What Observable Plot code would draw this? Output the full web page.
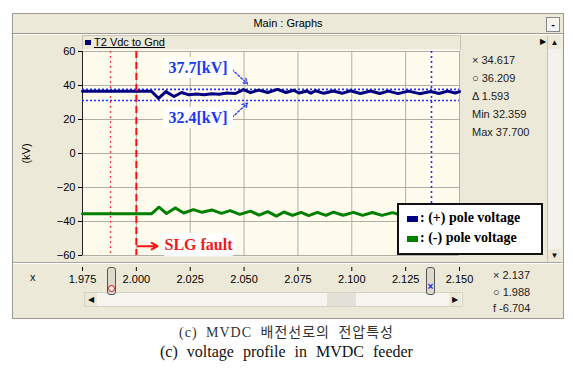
<!DOCTYPE html>
<html>
<head>
<meta charset="utf-8">
<script src="https://cdn.jsdelivr.net/npm/d3@7"></script>
<script src="https://cdn.jsdelivr.net/npm/@observablehq/plot@0.6"></script>
<style>
  body { margin: 0; background: #fff; }
  #wrap { position: relative; width: 573px; height: 369px; overflow: hidden; background: #fff; font-family: "Liberation Sans", Arial, sans-serif; font-size: 11px; color: #111; }
  .abs { position: absolute; }
  .ro { position: absolute; line-height: 13px; font-size: 11px; color: #222; white-space: nowrap; }
  .note { position: absolute; background: #fff; border-radius: 4px; font-family: "Liberation Serif", serif; font-weight: bold; font-size: 16px; text-align: center; white-space: nowrap; }
  .leg { position: absolute; font-family: "Liberation Serif", serif; font-weight: bold; font-size: 14px; color: #000; white-space: nowrap; }
</style>
</head>
<body>
<div id="wrap">
  <!-- window chrome -->
  <div class="abs" style="left:12px;top:13px;width:550px;height:304px;background:#ece9d8;border:1px solid #9c9a90;"></div>
  <div class="abs" style="left:13px;top:14px;width:550px;height:19px;border-bottom:1px solid #9c9a90;box-shadow:0 1px 0 #fff;"></div>
  <div class="abs" style="left:13px;top:17px;width:550px;text-align:center;font-size:11px;color:#000;">Main : Graphs</div>
  <div class="abs" style="left:546px;top:17px;width:12px;height:13px;border:1px solid #888;background:#f4f3ee;text-align:center;line-height:12px;font-weight:bold;">-</div>
  <!-- series label bar -->
  <div class="abs" style="left:82px;top:35px;width:377px;height:14px;background:#ece9d8;border:1px solid #c8c5b8;border-bottom:none;"></div>
  <div class="abs" style="left:85px;top:40px;width:6px;height:5px;background:#000080;"></div>
  <div class="abs" style="left:94px;top:36px;font-size:11px;text-decoration:underline;color:#000;">T2 Vdc to Gnd</div>
  <div class="abs" style="left:540px;top:37px;font-size:8px;color:#000;">&#9654;</div>
  <!-- right scrollbar -->
  <div class="abs" style="left:547px;top:36px;width:14px;height:226px;background:#f3f2ec;border-left:1px solid #c8c5b8;"></div>
  <div class="abs" style="left:548px;top:36px;width:13px;height:13px;background:#ece9d8;font-size:8px;text-align:center;line-height:13px;">&#9650;</div>
  <div class="abs" style="left:548px;top:249px;width:13px;height:13px;background:#ece9d8;font-size:8px;text-align:center;line-height:13px;">&#9660;</div>
  <!-- separator -->
  <div class="abs" style="left:13px;top:262px;width:549px;height:0;border-top:1px solid #a8a698;border-bottom:1px solid #fff;"></div>
  <div class="abs" style="left:30px;top:271px;font-size:11px;">x</div>
  <!-- bottom scrollbar -->
  <div class="abs" style="left:84px;top:292px;width:377px;height:13px;background:#f6f5f0;border:1px solid #d6d3c6;"></div>
  <div class="abs" style="left:327px;top:293px;width:29px;height:13px;background:#e4e2d8;"></div>
  <div class="abs" style="left:85px;top:293px;width:12px;height:13px;background:#ece9d8;font-size:8px;text-align:center;line-height:13px;">&#9664;</div>
  <div class="abs" style="left:449px;top:293px;width:12px;height:13px;background:#ece9d8;font-size:8px;text-align:center;line-height:13px;">&#9654;</div>
  <!-- cursor handles -->
  <div class="abs" style="left:107px;top:267px;width:7px;height:26px;border:1px solid #555;border-radius:3px;background:#ddd9cc;"></div>
  <div class="abs" style="left:108px;top:285px;width:5px;height:5px;border:1.5px solid #e00000;border-radius:50%;background:#fff;"></div>
  <div class="abs" style="left:426px;top:267px;width:7px;height:26px;border:1px solid #555;border-radius:3px;background:#ddd9cc;"></div>
  <div class="abs" style="left:426px;top:281px;width:9px;font-size:10px;font-weight:bold;color:#2020ff;text-align:center;">&#215;</div>

  <div id="chart" class="abs" style="left:0;top:0;"></div>

  <!-- readouts -->
  <div id="readY" class="abs" style="left:472px;top:54px;"></div>
  <div id="readX" class="abs" style="left:493px;top:269px;"></div>

  <!-- annotations -->
  <div class="note" style="left:163px;top:57px;width:70px;height:21px;line-height:21px;color:#2038f0;">37.7[kV]</div>
  <div class="note" style="left:163px;top:107px;width:70px;height:21px;line-height:21px;color:#2038f0;">32.4[kV]</div>
  <div class="note" style="left:162px;top:233px;width:73px;height:23px;line-height:23px;color:#f01818;">SLG fault</div>

  <!-- legend -->
  <div class="abs" style="left:397px;top:203px;width:142px;height:48px;background:#fff;border:2px solid #111;"></div>
  <div class="abs" style="left:407px;top:216px;width:11px;height:6px;background:#000080;"></div>
  <div class="leg" style="left:420px;top:210px;">: (+) pole voltage</div>
  <div class="abs" style="left:407px;top:236px;width:11px;height:6px;background:#008000;"></div>
  <div class="leg" style="left:420px;top:230px;">: (-) pole voltage</div>

  <!-- captions -->
  <div class="abs" style="left:0;top:321px;width:573px;text-align:center;font-family:'Liberation Serif','Noto Sans CJK KR',serif;font-size:14px;color:#333;letter-spacing:1px;word-spacing:4px;">(c) MVDC 배전선로의 전압특성</div>
  <div class="abs" style="left:0;top:343px;width:573px;text-align:center;font-family:'Liberation Serif',serif;font-size:16px;color:#111;word-spacing:5px;">(c) voltage profile in MVDC feeder</div>
</div>
<script>
// ---- data ----
const xTicks = [1.975, 2.000, 2.025, 2.050, 2.075, 2.100, 2.125, 2.150];
const yTicks = [-60, -40, -20, 0, 20, 40, 60];

const posT = [1.975, 2.007, 2.0103, 2.0137, 2.0175, 2.0210, 2.0245, 2.0280, 2.0315, 2.0350, 2.0385, 2.0420, 2.0460,
  2.0497, 2.0530, 2.0567, 2.0610, 2.0655, 2.0695, 2.0730, 2.0755, 2.0790, 2.0810, 2.0832, 2.0870, 2.0915, 2.0955,
  2.0994, 2.1040, 2.1087, 2.1130, 2.1170, 2.1215, 2.1263, 2.1315, 2.1366, 2.1405, 2.1445, 2.1480, 2.150];
const posV = [36.6, 36.6, 32.4, 36.4, 33.5, 35.9, 34.5, 35.0, 34.6, 35.2, 34.9, 35.6, 35.3,
  37.6, 35.8, 37.3, 35.9, 37.7, 35.9, 37.2, 35.6, 36.8, 35.5, 36.9, 35.4, 36.8, 35.4,
  36.9, 35.3, 36.8, 35.3, 36.7, 35.2, 36.7, 35.2, 36.5, 35.3, 36.7, 35.6, 36.4];

const negT = [1.975, 2.007, 2.0105, 2.0140, 2.0180, 2.0220, 2.0265, 2.0305, 2.0350, 2.0395, 2.0435, 2.0480, 2.0530,
  2.0570, 2.0610, 2.0650, 2.0685, 2.0725, 2.0765, 2.0800, 2.0840, 2.0880, 2.0915, 2.0960, 2.1008, 2.1050, 2.1096,
  2.1140, 2.1189, 2.1230, 2.1280, 2.1320, 2.1370, 2.1410, 2.1460, 2.1500];
const negV = [-35.5, -35.5, -31.6, -35.3, -32.0, -35.0, -33.0, -34.6, -33.2, -35.2, -33.6, -35.8, -33.9,
  -36.3, -34.2, -36.8, -34.4, -36.4, -34.6, -36.5, -34.6, -36.4, -34.5, -36.3, -34.6, -36.4, -34.7,
  -36.4, -34.8, -36.2, -34.9, -36.3, -34.9, -36.2, -35.0, -36.0];

const cursorO = 1.988;   // red dotted cursor
const faultT = 2.000;    // SLG fault instant
const cursorX = 2.137;   // blue dotted cursor
const levelLines = [37.7, 31.2];

const readY = ["× 34.617", "○ 36.209", "Δ 1.593", "Min 32.359", "Max 37.700"];
const readX = ["× 2.137", "○ 1.988", "f  -6.704"];

// annotation arrows (data coordinates)
const noteArrows = [
  {x1: 2.0444, y1: 49.4, x2: 2.0516, y2: 41.0},
  {x1: 2.0444, y1: 21.2, x2: 2.0516, y2: 29.6}
];
const faultArrow = [{x1: 2.0006, y1: -54.5, x2: 2.0098, y2: -54.5}];

const pos = posT.map((t, i) => ({t, v: posV[i]}));
const neg = negT.map((t, i) => ({t, v: negV[i]}));

const chart = Plot.plot({
  width: 573,
  height: 318,
  marginLeft: 82,
  marginRight: 114,
  marginTop: 51,
  marginBottom: 63,
  x: {domain: [1.975, 2.150]},
  y: {domain: [-60, 60]},
  style: {background: "transparent", fontFamily: "'Liberation Sans', Arial, sans-serif", fontSize: "11px", color: "#000", overflow: "visible"},
  marks: [
    Plot.frame({fill: "#fffcee", stroke: null, insetTop: -2, insetBottom: -1}),
    Plot.gridX(xTicks, {stroke: "#b0aea5", strokeOpacity: 1}),
    Plot.gridY(yTicks, {stroke: "#b0aea5", strokeOpacity: 1}),
    Plot.ruleX([1.975], {stroke: "#222"}),
    Plot.axisY(yTicks, {tickSize: 4, tickPadding: 3, label: "(kV)", labelAnchor: "center", labelArrow: "none", labelOffset: 60, fontSize: 11}),
    Plot.axisX(xTicks, {tickSize: 4, tickPadding: 4, dy: 12, tickFormat: d3.format(".3f"), label: null, fontSize: 11}),
    Plot.ruleY(levelLines, {stroke: "#2030ff", strokeWidth: 1.6, strokeDasharray: "2,2"}),
    Plot.ruleX([cursorO], {stroke: "#ff4040", strokeWidth: 1.3, strokeDasharray: "2,3"}),
    Plot.ruleX([cursorX], {stroke: "#2828ff", strokeWidth: 1.6, strokeDasharray: "2,3"}),
    Plot.line(neg, {x: "t", y: "v", stroke: "#008000", strokeWidth: 3}),
    Plot.line(pos, {x: "t", y: "v", stroke: "#000080", strokeWidth: 3}),
    Plot.ruleX([faultT], {stroke: "#ff1010", strokeWidth: 2, strokeDasharray: "7,4"}),
    Plot.arrow(noteArrows, {x1: "x1", y1: "y1", x2: "x2", y2: "y2", stroke: "#2a3cff", strokeWidth: 1.4, strokeDasharray: "2,2", headLength: 6, bend: 0}),
    Plot.arrow(faultArrow, {x1: "x1", y1: "y1", x2: "x2", y2: "y2", stroke: "#ff1010", strokeWidth: 2, headLength: 8, bend: 0})
  ]
});
document.getElementById("chart").appendChild(chart);

const ry = document.getElementById("readY");
readY.forEach((s, i) => {
  const d = document.createElement("div");
  d.className = "ro"; d.style.top = (i * 18) + "px"; d.style.left = "0px"; d.textContent = s;
  ry.appendChild(d);
});
const rx = document.getElementById("readX");
readX.forEach((s, i) => {
  const d = document.createElement("div");
  d.className = "ro"; d.style.top = (i * 16.5) + "px"; d.style.left = "0px"; d.textContent = s;
  rx.appendChild(d);
});
</script>
</body>
</html>
